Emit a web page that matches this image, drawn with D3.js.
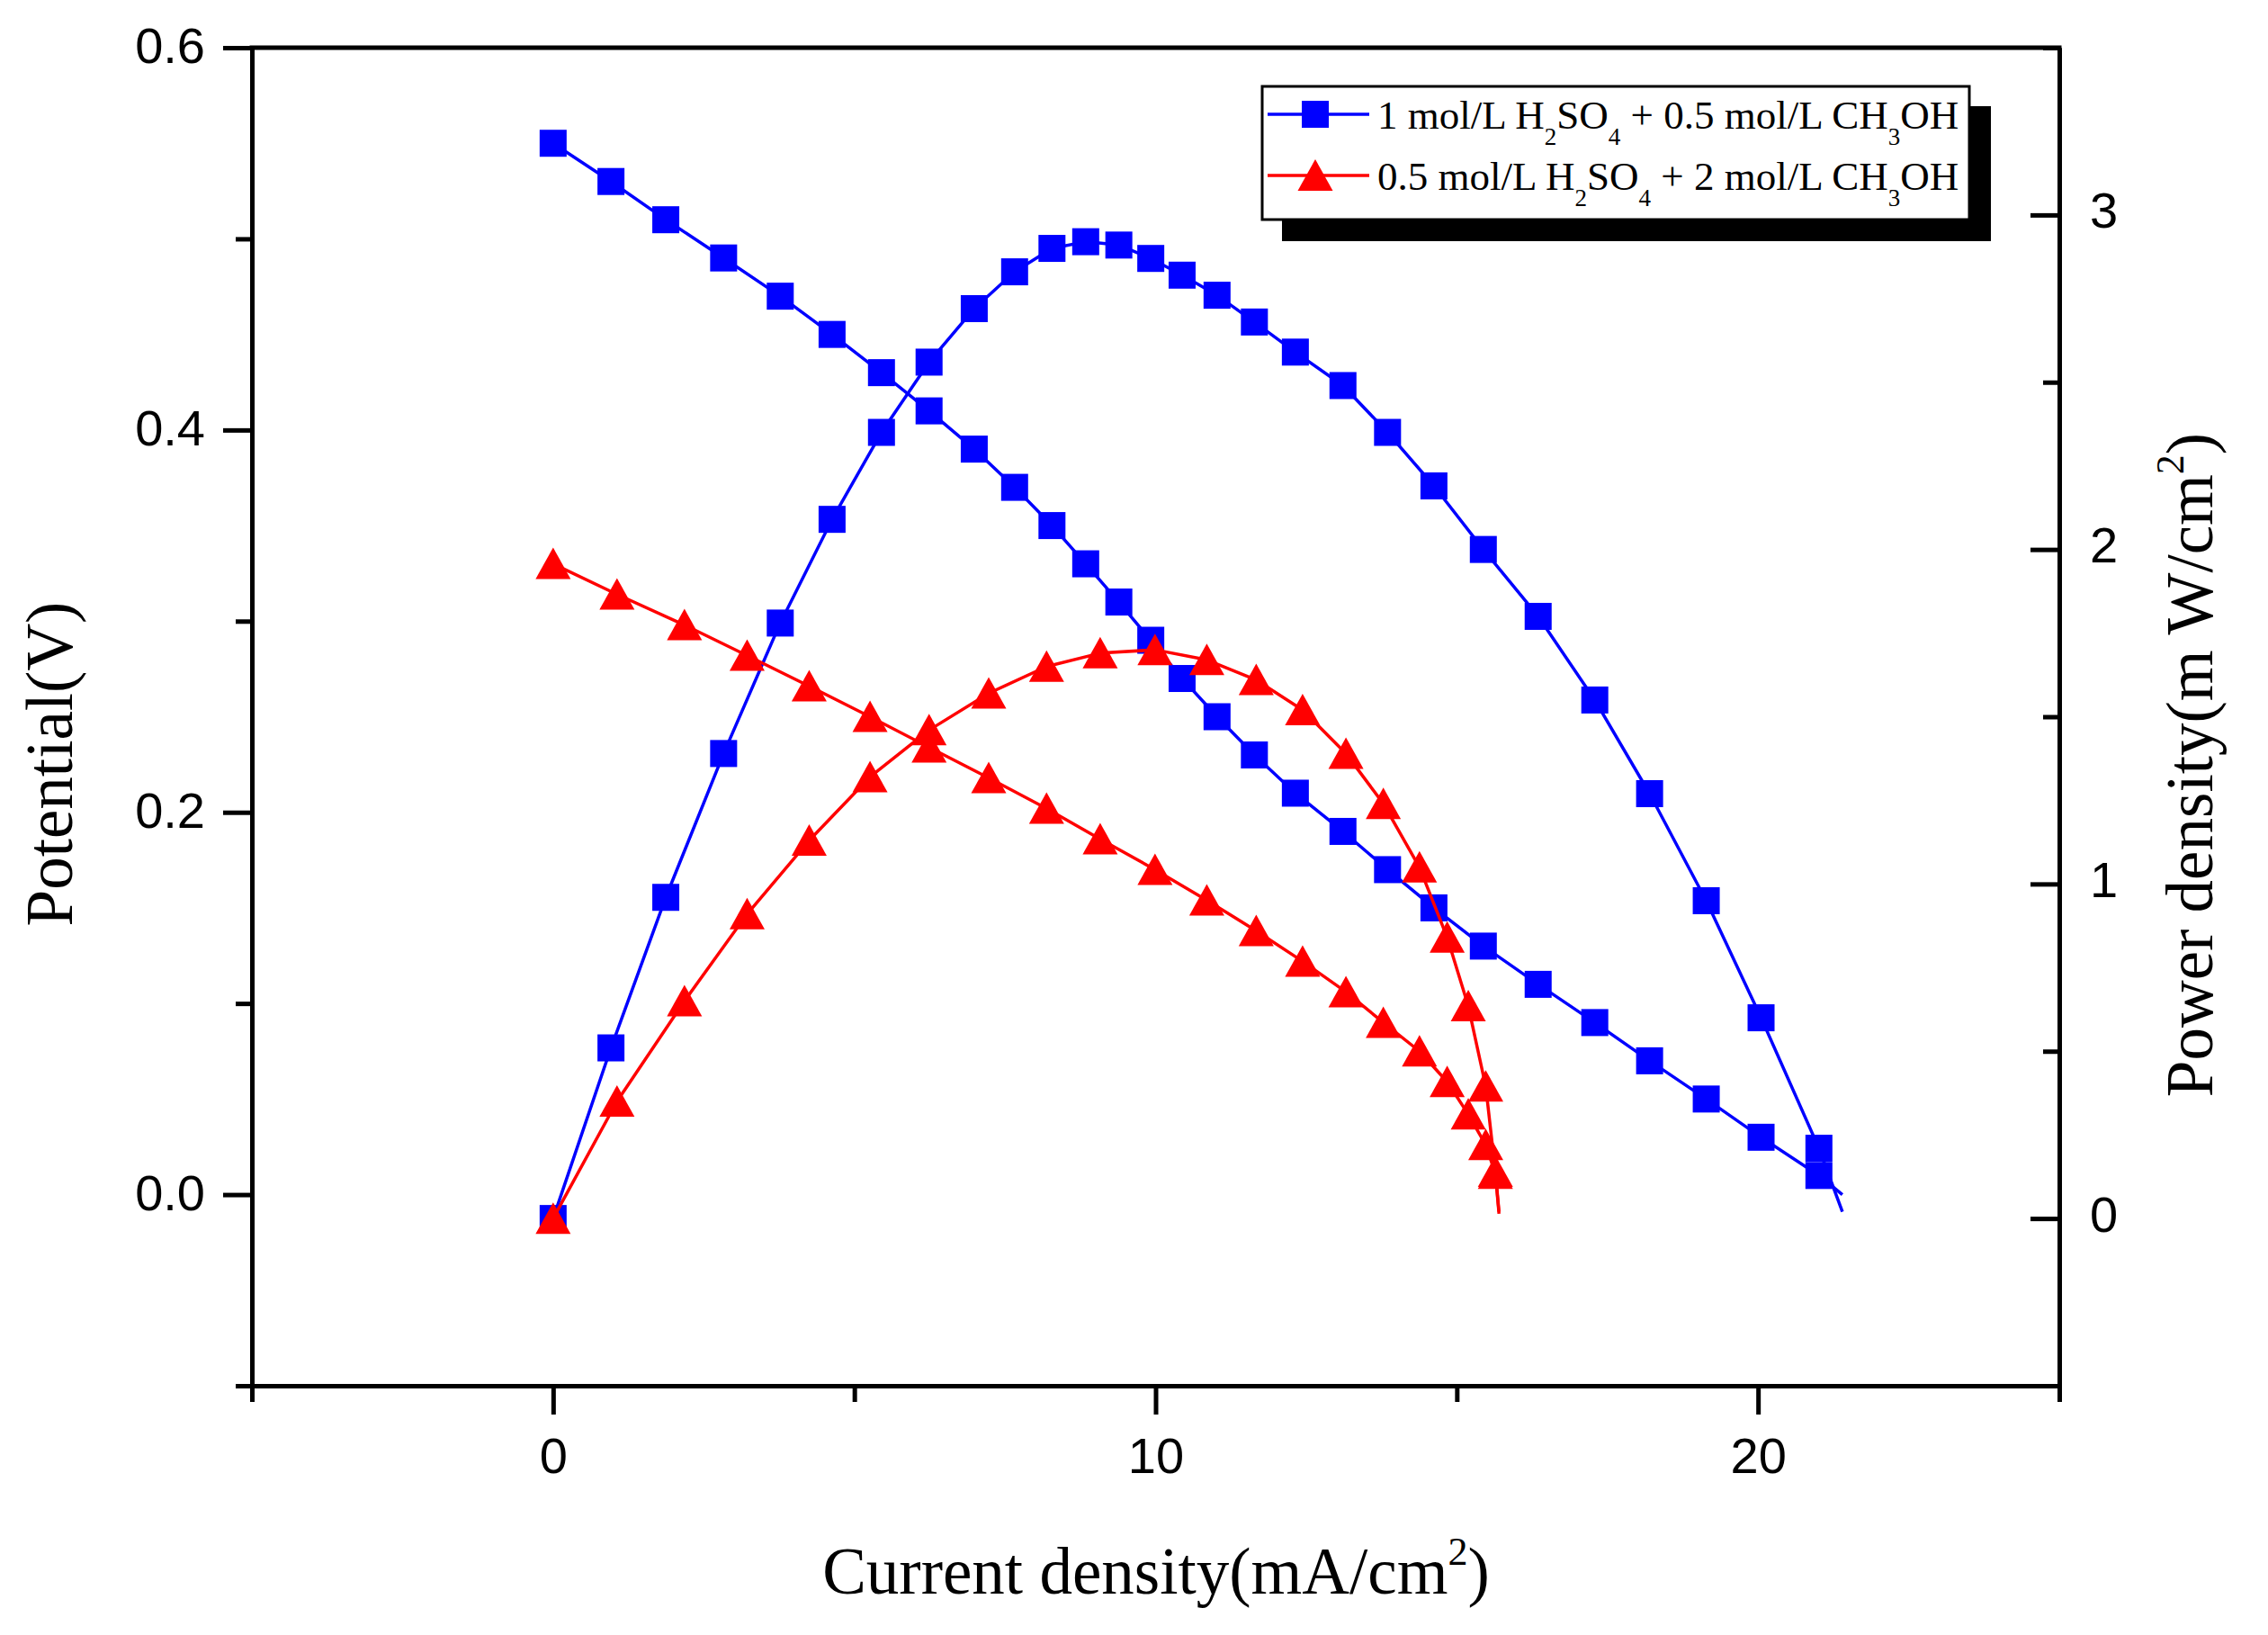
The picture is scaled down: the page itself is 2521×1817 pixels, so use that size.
<!DOCTYPE html>
<html>
<head>
<meta charset="utf-8">
<script src="https://cdn.jsdelivr.net/npm/d3@7"></script>
<style>
  body { margin: 0; background: #fff; }
  .tick text { font-family: "Liberation Sans", Arial, sans-serif; font-size: 56px; fill: #000; }
  .axis path, .axis line { stroke: #000; stroke-width: 5; }
  .title { font-family: "Liberation Serif", "Times New Roman", serif; font-size: 73px; fill: #000; }
  .legend text { font-family: "Liberation Serif", "Times New Roman", serif; font-size: 45px; fill: #000; }
</style>
</head>
<body>
<div id="chart"></div>
<script>
// current density (mA/cm2), potential (V) and power density (mW/cm2).
// the last entry of each series is where the line ends; it carries no symbol.
const blueCurrent = [0, 0.96, 1.87, 2.83, 3.77, 4.63, 5.45, 6.24, 6.99, 7.66, 8.28, 8.84, 9.39, 9.92,
  10.44, 11.02, 11.64, 12.32, 13.11, 13.85, 14.62, 15.44, 16.35, 17.29, 18.20, 19.14, 20.05, 21.01, 21.4];
const bluePotential = [0.55, 0.53, 0.51, 0.49, 0.47, 0.45, 0.43, 0.41, 0.39, 0.37, 0.35, 0.33, 0.31, 0.29,
  0.27, 0.25, 0.23, 0.21, 0.19, 0.17, 0.15, 0.13, 0.11, 0.09, 0.07, 0.05, 0.03, 0.01, 0.0];
const bluePower = [0, 0.51, 0.96, 1.39, 1.78, 2.09, 2.35, 2.56, 2.72, 2.83, 2.90, 2.92, 2.91, 2.87,
  2.82, 2.76, 2.68, 2.59, 2.49, 2.35, 2.19, 2.00, 1.80, 1.55, 1.27, 0.95, 0.60, 0.21, 0.02];

const redCurrent = [0, 1.06, 2.18, 3.22, 4.25, 5.26, 6.24, 7.23, 8.19, 9.08, 9.99, 10.85, 11.67, 12.44,
  13.16, 13.78, 14.38, 14.84, 15.19, 15.48, 15.64, 15.7];
const redPotential = [0.33, 0.314, 0.298, 0.282, 0.266, 0.25, 0.234, 0.218, 0.202, 0.186, 0.17, 0.154, 0.138, 0.122,
  0.106, 0.09, 0.075, 0.059, 0.042, 0.026, 0.011, -0.01];
const redPower = [0, 0.35, 0.65, 0.91, 1.13, 1.32, 1.46, 1.57, 1.65, 1.69, 1.70, 1.67, 1.61, 1.52,
  1.39, 1.24, 1.05, 0.84, 0.635, 0.395, 0.14, 0.02];

const xMajor = [0, 10, 20], xMinor = [-5, 5, 15, 25];
const leftMajor = [0, 0.2, 0.4, 0.6], leftMinor = [-0.1, 0.1, 0.3, 0.5];
const rightMajor = [0, 1, 2, 3], rightMinor = [-0.5, 0.5, 1.5, 2.5, 3.5];

const legendLabels = [
  [["1 mol/L H", 0], ["2", 1], ["SO", 0], ["4", 1], [" + 0.5 mol/L CH", 0], ["3", 1], ["OH", 0]],
  [["0.5 mol/L H", 0], ["2", 1], ["SO", 0], ["4", 1], [" + 2 mol/L CH", 0], ["3", 1], ["OH", 0]]
];

// set the dimensions and margins of the graph
var W = 2521, H = 1817;
var margin = {top: 53, right: 232, bottom: 277, left: 280},
    width = W - margin.left - margin.right,
    height = H - margin.top - margin.bottom;

var x = d3.scaleLinear().domain([-5, 25]).range([0, width]);
var yL = d3.scaleLinear().domain([-0.1, 0.6]).range([height, 0]);
var yR = d3.scaleLinear().domain([-0.5, 3.5]).range([height, 0]);

var svg = d3.select("#chart").append("svg")
    .attr("width", W).attr("height", H)
  .append("g")
    .attr("transform", "translate(" + margin.left + "," + margin.top + ")");

// axes
svg.append("g").attr("class", "axis")
    .call(d3.axisLeft(yL).tickValues(leftMajor).tickFormat(d3.format(".1f"))
      .tickSize(32).tickPadding(20).tickSizeOuter(0))
    .call(g => g.selectAll("text").attr("dy", "0.3em"));
svg.append("g").attr("class", "axis")
    .call(d3.axisLeft(yL).tickValues(leftMinor).tickFormat("").tickSize(18).tickSizeOuter(0));

svg.append("g").attr("class", "axis")
    .attr("transform", "translate(" + width + ",0)")
    .call(d3.axisRight(yR).tickValues(rightMajor).tickFormat(d3.format("d"))
      .tickSize(-32).tickPadding(34).tickSizeOuter(0))
    .call(g => g.selectAll("text").attr("dy", "0.25em"));
svg.append("g").attr("class", "axis")
    .attr("transform", "translate(" + width + ",0)")
    .call(d3.axisRight(yR).tickValues(rightMinor).tickFormat("").tickSize(-18).tickSizeOuter(0));

svg.append("g").attr("class", "axis")
    .attr("transform", "translate(0," + height + ")")
    .call(d3.axisBottom(x).tickValues(xMajor).tickFormat(d3.format("d"))
      .tickSize(32).tickPadding(25).tickSizeOuter(0));
svg.append("g").attr("class", "axis")
    .attr("transform", "translate(0," + height + ")")
    .call(d3.axisBottom(x).tickValues(xMinor).tickFormat("").tickSize(18).tickSizeOuter(0));

// top frame line, no ticks
svg.append("line")
    .attr("x1", 0).attr("x2", width).attr("y1", 0).attr("y2", 0)
    .attr("stroke", "#000").attr("stroke-width", 5).attr("stroke-linecap", "square");

// series
function series(xs, ys) {
  return xs.map((d, i) => ({x: d, y: ys[i]}));
}
var plots = [
  {data: series(blueCurrent, bluePotential), y: yL, color: "#0000ff", symbol: "square"},
  {data: series(blueCurrent, bluePower), y: yR, color: "#0000ff", symbol: "square"},
  {data: series(redCurrent, redPotential), y: yL, color: "#ff0000", symbol: "triangle"},
  {data: series(redCurrent, redPower), y: yR, color: "#ff0000", symbol: "triangle"}
];

function drawSymbol(g, symbol, color) {
  if (symbol === "square") {
    g.append("rect").attr("x", -15).attr("y", -15).attr("width", 30).attr("height", 30)
      .attr("fill", color);
  } else {
    g.append("path").attr("d", "M0,-18L19.5,17L-19.5,17Z").attr("fill", color);
  }
}

plots.forEach(function(p) {
  var line = d3.line().x(d => x(d.x)).y(d => p.y(d.y));
  svg.append("path")
      .datum(p.data)
      .attr("fill", "none")
      .attr("stroke", p.color)
      .attr("stroke-width", 3.5)
      .attr("stroke-linejoin", "round")
      .attr("d", line);
  // symbols on every point except the line end
  svg.selectAll(null)
      .data(p.data.slice(0, -1))
    .enter().append("g")
      .attr("transform", d => "translate(" + x(d.x) + "," + p.y(d.y) + ")")
      .each(function() { drawSymbol(d3.select(this), p.symbol, p.color); });
});

// axis titles
var root = d3.select("#chart svg");
var xt = root.append("text").attr("class", "title")
    .attr("x", 1285).attr("y", 1771).attr("text-anchor", "middle");
xt.append("tspan").text("Current density(mA/cm");
xt.append("tspan").attr("dy", -32).style("font-size", "44px").text("2");
xt.append("tspan").attr("dy", 32).text(")");

root.append("text").attr("class", "title")
    .attr("transform", "translate(80,849) rotate(-90)")
    .attr("text-anchor", "middle")
    .text("Potential(V)");

var yt = root.append("text").attr("class", "title")
    .attr("transform", "translate(2459,850) rotate(-90)")
    .attr("text-anchor", "middle");
yt.append("tspan").text("Power density(m W/cm");
yt.append("tspan").attr("dy", -32).style("font-size", "44px").text("2");
yt.append("tspan").attr("dy", 32).text(")");

// legend with drop shadow
var legend = root.append("g").attr("class", "legend");
legend.append("rect").attr("x", 1425).attr("y", 118).attr("width", 788).attr("height", 150).attr("fill", "#000");
legend.append("rect").attr("x", 1403).attr("y", 96).attr("width", 786).attr("height", 148)
    .attr("fill", "#fff").attr("stroke", "#000").attr("stroke-width", 3);

var legendRows = [
  {color: "#0000ff", symbol: "square", cy: 127},
  {color: "#ff0000", symbol: "triangle", cy: 195}
];
legendRows.forEach(function(r, i) {
  legend.append("line").attr("x1", 1409).attr("x2", 1522).attr("y1", r.cy).attr("y2", r.cy)
      .attr("stroke", r.color).attr("stroke-width", 3.5);
  drawSymbol(legend.append("g").attr("transform", "translate(1462," + r.cy + ")"), r.symbol, r.color);
  var t = legend.append("text").attr("x", 1531).attr("y", r.cy + 16);
  var low = 0;
  legendLabels[i].forEach(function(part) {
    var s = t.append("tspan").text(part[0]);
    if (part[1] && !low) { s.attr("dy", 18).style("font-size", "27px"); low = 1; }
    else if (!part[1] && low) { s.attr("dy", -18); low = 0; }
  });
});
</script>
</body>
</html>
